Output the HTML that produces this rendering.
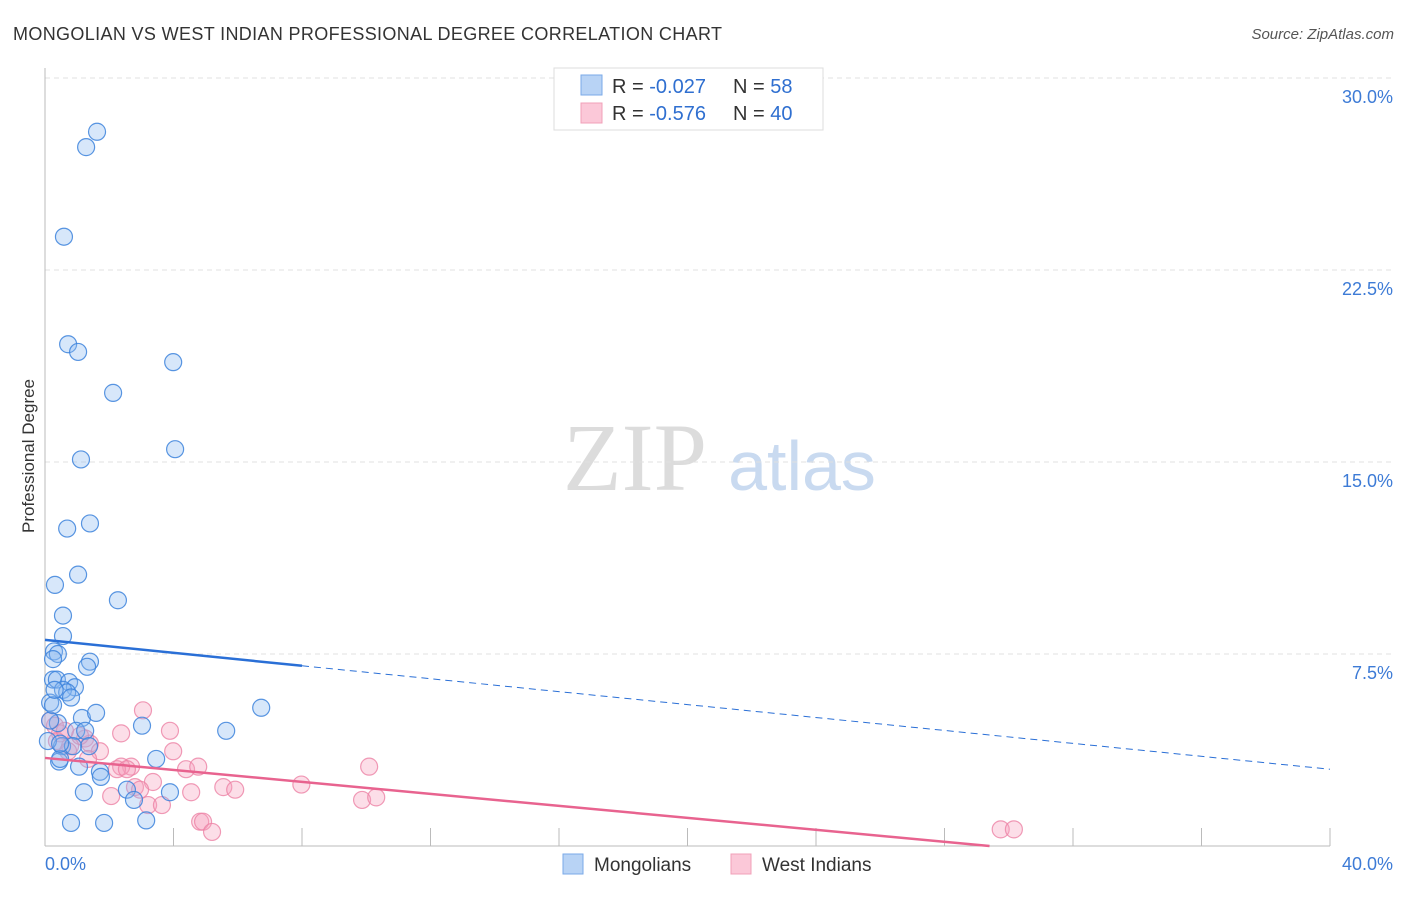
<!DOCTYPE html>
<html><head><meta charset="utf-8"><style>
body{margin:0;background:#fff;font-family:"Liberation Sans",sans-serif;}
</style></head><body>
<svg id="chart" width="1406" height="892" viewBox="0 0 1406 892" font-family="Liberation Sans, sans-serif" xmlns="http://www.w3.org/2000/svg">
<text x="13" y="40" font-size="18" fill="#333" textLength="709">MONGOLIAN VS WEST INDIAN PROFESSIONAL DEGREE CORRELATION CHART</text>
<text x="1394" y="39" font-size="15" fill="#555" font-style="italic" text-anchor="end">Source: ZipAtlas.com</text>
<text x="34" y="456" font-size="17" fill="#333" text-anchor="middle" transform="rotate(-90 34 456)">Professional Degree</text>
<g>
<text x="635" y="490" font-size="96" fill="#dcdcdc" style="font-family:'Liberation Serif',serif" text-anchor="middle">ZIP</text>
<text x="802" y="490" font-size="70" fill="#c9daf0" text-anchor="middle">atlas</text>
</g>
<g id="grid"></g><g id="axes"></g><g id="marks"></g>
<g>
<rect x="554" y="68" width="269" height="62" fill="#fff" stroke="#ddd"/>
<rect x="581" y="75" width="21" height="20" fill="#b8d3f5" stroke="#7aaae8"/>
<rect x="581" y="103" width="21" height="20" fill="#fbc8d8" stroke="#f0a0b8"/>
<text x="612" y="93" font-size="20" fill="#333">R = <tspan fill="#2f6fd0">-0.027</tspan></text>
<text x="733" y="93" font-size="20" fill="#333">N = <tspan fill="#2f6fd0">58</tspan></text>
<text x="612" y="120" font-size="20" fill="#333">R = <tspan fill="#2f6fd0">-0.576</tspan></text>
<text x="733" y="120" font-size="20" fill="#333">N = <tspan fill="#2f6fd0">40</tspan></text>
</g>
<g>
<rect x="563" y="854" width="20" height="20" fill="#b8d3f5" stroke="#7aaae8"/>
<text x="594" y="871" font-size="19" fill="#333">Mongolians</text>
<rect x="731" y="854" width="20" height="20" fill="#fbc8d8" stroke="#f0a0b8"/>
<text x="762" y="871" font-size="19" fill="#333">West Indians</text>
</g>
</svg>
<script>
const yTicks=[7.5,15.0,22.5,30.0];
const xTickCount=[0,4,8,12,16,20,24,28,32,36,40];
const mongX=[1.62,1.28,0.59,0.72,1.03,3.99,2.12,4.05,1.12,1.40,0.69,1.03,0.31,2.27,0.56,0.56,0.28,0.40,0.25,1.40,1.31,0.25,0.37,0.75,0.93,0.56,0.69,0.81,0.16,1.15,1.59,0.40,6.73,5.64,3.02,0.97,1.25,0.53,1.37,0.87,3.46,0.44,0.47,1.06,1.71,1.74,2.55,2.77,3.89,1.21,0.81,1.84,3.15,0.16,0.09,0.25,0.47,0.30];
const mongY=[27.9,27.3,23.8,19.6,19.3,18.9,17.7,15.5,15.1,12.6,12.4,10.6,10.2,9.6,9.0,8.2,7.6,7.5,7.3,7.2,7.0,6.5,6.5,6.4,6.2,6.1,6.0,5.8,5.6,5.0,5.2,4.8,5.4,4.5,4.7,4.5,4.5,3.9,3.9,3.9,3.4,3.3,3.4,3.1,2.9,2.7,2.2,1.8,2.1,2.1,0.9,0.9,1.0,4.9,4.1,5.5,4.0,6.1];
const westX=[0.16,0.31,0.47,0.37,0.78,0.72,1.25,1.40,3.05,3.89,2.37,1.71,1.34,2.68,2.37,2.24,2.55,4.39,4.77,3.99,3.36,2.80,2.96,2.06,3.21,3.64,4.55,5.55,5.92,7.98,10.09,9.87,10.31,4.83,4.92,5.20,29.75,30.16,1.09,0.62];
const westY=[4.9,4.7,4.4,4.1,3.9,3.7,4.2,4.0,5.3,4.5,4.4,3.7,3.4,3.1,3.1,3.0,3.0,3.0,3.1,3.7,2.5,2.3,2.2,1.95,1.6,1.6,2.1,2.3,2.2,2.4,3.1,1.8,1.9,0.95,0.95,0.55,0.65,0.65,4.3,4.5];
const mongTrend=[8.05,-0.1263];
const westTrend=[3.44,-0.117];
const X0=45,X1=1330,Y0=846,PXY=25.6;
const sx=v=>X0+v/40*(X1-X0), sy=v=>Y0-v*PXY;
const NS="http://www.w3.org/2000/svg";
function mk(t,a,p){const e=document.createElementNS(NS,t);for(const k in a)e.setAttribute(k,a[k]);p.appendChild(e);return e;}
const grid=document.getElementById('grid'),axes=document.getElementById('axes'),marks=document.getElementById('marks');
yTicks.forEach(t=>{
 const l=mk('line',{x1:45,x2:1393,y1:sy(t),y2:sy(t),stroke:'#e0e0e0','stroke-dasharray':'5,4'},grid);
 
 
 const tx=mk('text',{x:1393,y:sy(t)+25,'font-size':18,fill:'#3d7bd6','text-anchor':'end'},axes);
 tx.textContent=t.toFixed(1)+'%';
 
 
});
const ax=mk('line',{x1:45,x2:45,y1:68,y2:846,stroke:'#bbb'},axes);


const bx=mk('line',{x1:45,x2:1330,y1:846,y2:846,stroke:'#bbb'},axes);


xTickCount.forEach(t=>{
 const l=mk('line',{x1:sx(t),x2:sx(t),y1:828,y2:846,stroke:'#bbb'},axes);
 
 
});
[[0,'0.0%','start',45],[40,'40.0%','end',1393]].forEach(([v,s,a,x])=>{
 const tx=mk('text',{x:x,y:870,'font-size':18,fill:'#3d7bd6','text-anchor':a},axes);
 tx.textContent=s;
 
 
});
function pts(xs,ys,fill,stroke,name){
 xs.forEach((x,i)=>{
  const c=mk('circle',{cx:sx(x),cy:sy(ys[i]),r:8.5,fill:fill,stroke:stroke,'stroke-width':1.2},marks);
  
  
 });
}
pts(westX,westY,'rgba(246,160,190,0.35)','rgba(236,130,165,0.8)','west-indian-point');
pts(mongX,mongY,'rgba(140,185,240,0.35)','rgba(60,130,220,0.85)','mongolian-point');
const m1=mk('line',{x1:sx(0),y1:sy(mongTrend[0]),x2:sx(8),y2:sy(mongTrend[0]+8*mongTrend[1]),stroke:'#2a6fd6','stroke-width':2.5},marks);


const m2=mk('line',{x1:sx(8),y1:sy(mongTrend[0]+8*mongTrend[1]),x2:sx(40),y2:sy(mongTrend[0]+40*mongTrend[1]),stroke:'#2a6fd6','stroke-width':1,'stroke-dasharray':'7,5'},marks);


const xe=-westTrend[0]/westTrend[1];
const w1=mk('line',{x1:sx(0),y1:sy(westTrend[0]),x2:sx(xe),y2:sy(0),stroke:'#e8638f','stroke-width':2.5},marks);


</script>
</body></html>
